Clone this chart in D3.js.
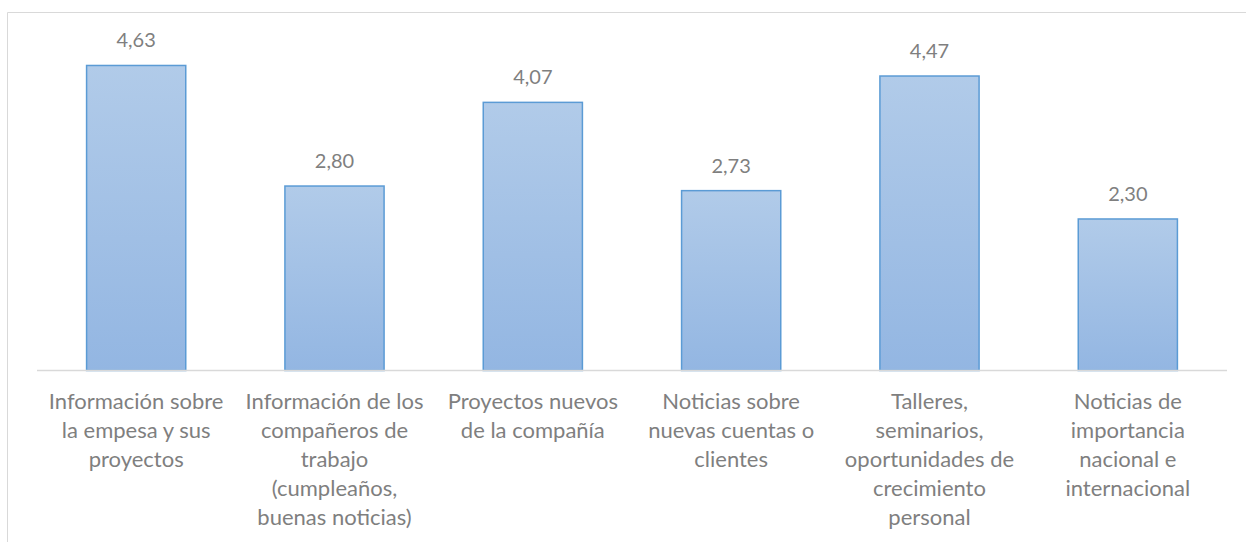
<!DOCTYPE html>
<html>
<head>
<meta charset="utf-8">
<script src="https://cdn.jsdelivr.net/npm/d3@7"></script>
<style>
  html, body { margin: 0; padding: 0; background: #fff; }
  svg { display: block; }
  text { font-family: Lato, "Open Sans", sans-serif; fill: #7f7f7f; }
</style>
</head>
<body>
<svg id="chart" width="1246" height="542"></svg>
<script>
// Categories (line breaks as shown under each bar)
const categories = [
  "Información sobre\nla empesa y sus\nproyectos",
  "Información de los\ncompañeros de\ntrabajo\n(cumpleaños,\nbuenas noticias)",
  "Proyectos nuevos\nde la compañía",
  "Noticias sobre\nnuevas cuentas o\nclientes",
  "Talleres,\nseminarios,\noportunidades de\ncrecimiento\npersonal",
  "Noticias de\nimportancia\nnacional e\ninternacional"
];
const values = [4.63, 2.80, 4.07, 2.73, 4.47, 2.30];
const valueLabels = ["4,63", "2,80", "4,07", "2,73", "4,47", "2,30"];

const svg = d3.select("#chart");
const W = 1246, H = 542;

// chart frame (only top and left edges fall inside the view)
svg.append("line").attr("x1", 7.5).attr("x2", W).attr("y1", 12.5).attr("y2", 12.5)
  .attr("stroke", "#d9d9d9").attr("stroke-width", 1);
svg.append("line").attr("x1", 7.5).attr("x2", 7.5).attr("y1", 12.5).attr("y2", H)
  .attr("stroke", "#d9d9d9").attr("stroke-width", 1);

const baseY = 370.5;
const x = d3.scaleBand().domain(d3.range(categories.length))
  .range([37, 1227]).paddingInner(0.5).paddingOuter(0.25);
const y = d3.scaleLinear().domain([0, 5]).range([baseY, baseY - 329.4]);

const defs = svg.append("defs");
const grad = defs.append("linearGradient").attr("id", "barFill")
  .attr("x1", 0).attr("y1", 0).attr("x2", 0).attr("y2", 1);
grad.append("stop").attr("offset", "0%").attr("stop-color", "#b1cbe9");
grad.append("stop").attr("offset", "100%").attr("stop-color", "#93b6e2");

svg.append("g").selectAll("rect").data(values).join("rect")
  .attr("x", (d, i) => x(i))
  .attr("y", d => y(d))
  .attr("width", x.bandwidth())
  .attr("height", d => baseY - y(d))
  .attr("fill", "url(#barFill)")
  .attr("stroke", "#5b9bd5")
  .attr("stroke-width", 1.5);

// category axis line
svg.append("line").attr("x1", 37).attr("x2", 1227).attr("y1", baseY).attr("y2", baseY)
  .attr("stroke", "#d9d9d9").attr("stroke-width", 1.5);

// value labels
svg.append("g").selectAll("text").data(values).join("text")
  .attr("x", (d, i) => x(i) + x.bandwidth() / 2)
  .attr("y", d => y(d) - 18)
  .attr("text-anchor", "middle")
  .attr("font-size", 20)
  .text((d, i) => valueLabels[i]);

// category labels
const lab = svg.append("g").selectAll("text").data(categories).join("text")
  .attr("text-anchor", "middle")
  .attr("font-size", 22)
  .attr("x", (d, i) => x(i) + x.bandwidth() / 2)
  .attr("y", baseY + 38.5);
lab.each(function(d, i) {
  const t = d3.select(this);
  d.split("\n").forEach((line, k) => {
    t.append("tspan").attr("x", x(i) + x.bandwidth() / 2)
      .attr("dy", k === 0 ? 0 : 29).text(line);
  });
});
</script>
</body>
</html>
